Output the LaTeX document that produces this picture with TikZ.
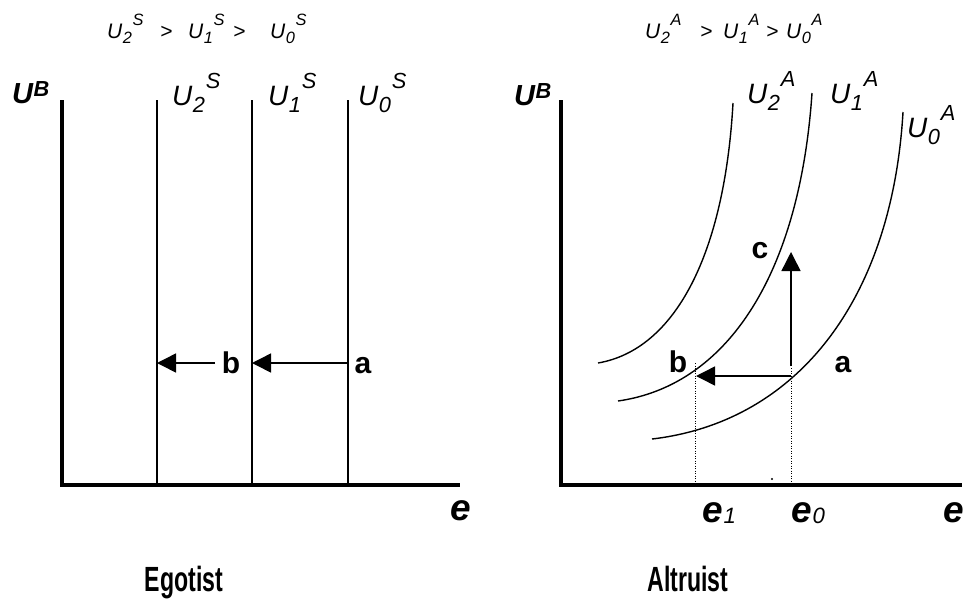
\documentclass[tikz,border=0pt]{standalone}
\usepackage{fontspec}
\setmainfont{Liberation Sans}
\usetikzlibrary{arrows.meta}

% level label U_i^X, sub and sup side by side
\newcommand{\Ulev}[2]{U\kern0.02em\raisebox{-0.28em}{\scalebox{0.78}{#1}}\kern0.03em\raisebox{0.6em}{\scalebox{0.78}{#2}}}
\newcommand{\UB}{U\kern0.02em\raisebox{0.22em}{\scalebox{0.75}{B}}}
\newcommand{\esub}[1]{e\kern0.02em\raisebox{-0.03em}{\mdseries\scalebox{0.6}{#1}}}

\begin{document}
\begin{tikzpicture}[x=1pt,y=-1pt,
  lev/.style={anchor=base west, inner sep=0pt, font=\fontsize{28}{32}\selectfont\itshape},
  hdr/.style={anchor=base west, inner sep=0pt, font=\fontsize{21}{24}\selectfont\itshape},
  ylab/.style={anchor=base west, inner sep=0pt, font=\fontsize{29}{32}\selectfont\bfseries\itshape},
  xlab/.style={anchor=base west, inner sep=0pt, font=\fontsize{37}{42}\selectfont\bfseries\itshape},
  pnt/.style={anchor=base, inner sep=0pt, font=\fontsize{30}{34}\selectfont\bfseries},
  ttl/.style={anchor=base, inner sep=0pt, font=\fontsize{35}{40}\selectfont\bfseries},
  axis/.style={line width=4pt, line join=miter},
  indiff/.style={line width=1.4pt},
  move/.style={line width=1.5pt, -{Triangle[length=19pt,width=19pt]}},
  guide/.style={line width=1pt, dash pattern=on 1pt off 1.5pt}
]
\useasboundingbox (0,0) rectangle (965,600);

% headers
\node[hdr] (hs2) at (107,38) {\Ulev{2}{S}};
\node[hdr] (hsg1) at (160,38) {>};
\node[hdr] (hs1) at (188,38) {\Ulev{1}{S}};
\node[hdr] (hsg2) at (233,38) {>};
\node[hdr] (hs0) at (270,38) {\Ulev{0}{S}};
\node[hdr] (ha2) at (645,38) {\Ulev{2}{A}};
\node[hdr] (hag1) at (700,38) {>};
\node[hdr] (ha1) at (723,38) {\Ulev{1}{A}};
\node[hdr] (hag2) at (766,38) {>};
\node[hdr] (ha0) at (786,38) {\Ulev{0}{A}};

% Egotist
\draw[axis] (62,100) -- (62,485) -- (460,485);
\node[ylab] (ubS) at (12,103) {\UB};
\node[xlab] (eS) at (450,520) {e};
\draw[indiff] (157,100) -- (157,485);
\draw[indiff] (252,100) -- (252,485);
\draw[indiff] (348,100) -- (348,485);
\node[lev] (us2) at (172,105) {\Ulev{2}{S}};
\node[lev] (us1) at (268,105) {\Ulev{1}{S}};
\node[lev] (us0) at (358,105) {\Ulev{0}{S}};
\coordinate (sa) at (348,363);
\coordinate (sb1) at (252,363);
\coordinate (sb0) at (215,363);
\coordinate (sc) at (157,363);
\draw[move] (sa) -- (sb1);
\draw[move] (sb0) -- (sc);
\node[pnt] (pa) at (363,373) {a};
\node[pnt] (pb) at (231,373) {b};
\node[ttl] (ego) at (184,591) {\scalebox{0.66}[1]{Egotist}};

% Altruist
\draw[axis] (561,100) -- (561,485) -- (962,485);
\node[ylab] (ubA) at (514,105) {\UB};
\draw[indiff] (598,363) .. controls (676,349.5) and (724.6,252.5) .. (733,103);
\draw[indiff] (618,401) .. controls (730,385) and (800,270) .. (812,93);
\draw[indiff] (652,439) .. controls (797,422) and (892,300) .. (903,112);
\node[lev] (ua2) at (747,103) {\Ulev{2}{A}};
\node[lev] (ua1) at (830,103) {\Ulev{1}{A}};
\node[lev] (ua0) at (907,137) {\Ulev{0}{A}};
\coordinate (ra) at (791,376);
\coordinate (rb) at (696,376);
\coordinate (rc0) at (791,366);
\coordinate (rc) at (791,252);
\draw[move] (ra) -- (rb);
\draw[move] (rc0) -- (rc);
\draw[guide] (695,363) -- (695,485);
\draw[guide] (791,368) -- (791,485);
\fill (772,479) circle (1.2pt);
\node[pnt] (qa) at (843,372) {a};
\node[pnt] (qb) at (678,372) {b};
\node[pnt] (qc) at (760,258) {c};
\node[xlab] (e1) at (702,522) {\esub{1}};
\node[xlab] (e0) at (791,522) {\esub{0}};
\node[xlab] (eA) at (943,522) {e};
\node[ttl] (alt) at (688,591) {\scalebox{0.66}[1]{Altruist}};
\end{tikzpicture}
\end{document}
